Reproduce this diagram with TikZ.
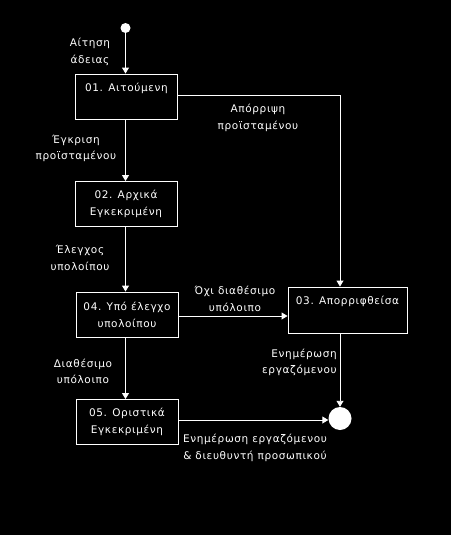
\documentclass[tikz,border=0pt]{standalone}
\usepackage{fontspec}
\setmainfont{DejaVu Sans}[LetterSpace=6]
\usetikzlibrary{arrows.meta}
\begin{document}
\begin{tikzpicture}[x=1pt,y=-1pt,
  every node/.style={text=white},
  box/.style={draw=white,line width=0.9pt,minimum width=102pt,minimum height=45pt,inner sep=0pt,align=center,font=\fontsize{10.5}{17}\selectfont},
  lbl/.style={align=center,inner sep=0pt,font=\fontsize{10.5}{16.5}\selectfont},
  flow/.style={draw=white,line width=0.9pt,-{Triangle[width=7pt,length=6pt]}},
  dot/.style={circle,fill=white,draw=none,inner sep=0pt}]
\fill[black] (0,0) rectangle (451,535);
\useasboundingbox (0,0) rectangle (451,535);
% nodes
\node[dot,minimum size=10pt] (start) at (125.5,28) {};
\node[box] (b1) at (126.5,96.5) {};
\node[lbl,font=\fontsize{10.5}{17}\selectfont] (t1) at (126.5,88) {01. Αιτούμενη};
\node[box] (b2) at (126,204) {02. Αρχικά\\Εγκεκριμένη};
\node[box] (b4) at (127,314.5) {04. Υπό έλεγχο\\υπολοίπου};
\node[box] (b5) at (127,422) {05. Οριστικά\\Εγκεκριμένη};
\node[box,minimum width=119pt,minimum height=46pt] (b3) at (347.5,310) {};
\node[lbl,font=\fontsize{10.5}{17}\selectfont] (t3) at (347.5,301) {03. Απορριφθείσα};
\node[dot,minimum size=23pt] (end) at (340,418.5) {};
\coordinate (c1) at (340,95);
% connectors
\draw[flow] (start) -- (start |- b1.north);
\draw[flow] (b1.east |- c1) -- (c1) -- (c1 |- b3.north);
\draw[flow] (start |- b1.south) -- (start |- b2.north);
\draw[flow] (start |- b2.south) -- (start |- b4.north);
\draw[flow] (b4.east |- 0,316) -- (b3.west |- 0,316);
\draw[flow] (start |- b4.south) -- (start |- b5.north);
\draw[flow] (c1 |- b3.south) -- (end.north);
\draw[flow] (b5.east |- 0,420) -- (end.west |- 0,420);
% labels
\node[lbl] (l1) at (90,52) {Αίτηση\\άδειας};
\node[lbl] (l2) at (76,148.5) {Έγκριση\\προϊσταμένου};
\node[lbl] (l3) at (258,118) {Απόρριψη\\προϊσταμένου};
\node[lbl] (l4) at (80,258) {Έλεγχος\\υπολοίπου};
\node[lbl] (l5) at (235,299) {Όχι διαθέσιμο\\υπόλοιπο};
\node[lbl] (l6) at (83,371.5) {Διαθέσιμο\\υπόλοιπο};
\node[lbl,align=right,anchor=east] (l7) at (337,362.5) {Ενημέρωση\\εργαζόμενου};
\node[lbl] (l8) at (255,448) {Ενημέρωση εργαζόμενου\\\& διευθυντή προσωπικού};
\end{tikzpicture}
\end{document}
